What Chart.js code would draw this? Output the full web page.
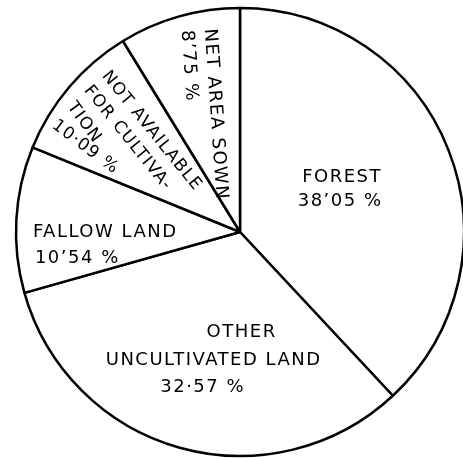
<!DOCTYPE html>
<html>
<head>
<meta charset="utf-8">
<script src="https://cdn.jsdelivr.net/npm/chart.js@4/dist/chart.umd.min.js"></script>
<style>
  html, body { margin: 0; padding: 0; background: #fff; overflow: hidden; width: 463px; height: 458px; }
  canvas { display: block; }
</style>
</head>
<body>
<canvas id="c" width="480" height="470"></canvas>
<script>
// ---- data ----
const categories = ["FOREST", "OTHER UNCULTIVATED LAND", "FALLOW LAND", "NOT AVAILABLE FOR CULTIVATION", "NET AREA SOWN"];
const shares = [38.05, 32.57, 10.54, 10.09, 8.75];
const labelLines = [["FOREST"], ["OTHER", "UNCULTIVATED LAND"], ["FALLOW LAND"], ["NOT AVAILABLE", "FOR CULTIVA-", "TION"], ["NET AREA SOWN"]];
const decimalMarks = ["\u2019", "\u00B7", "\u2019", "\u00B7", "\u2019"];

// ---- label layout (style/position only) ----
// anchor = baseline start of first line, placed relative to the slice's mid-angle
const labelLayout = [
  { frac: 0.49,  dx: 0,  dy: -10, rot: 0,  align: "center", size: 18, ls: 1.5, ys: [0, 24],          shifts: [0, -2],         lineRot: [0, 0] },
  { frac: 0.487, dx: 3,  dy: 0,   rot: 0,  align: "center", size: 18, ls: 1.5, ys: [0, 27.5, 55],    shifts: [28, 0, -11],    lineRot: [0, 0, 0] },
  { frac: 0.926, dx: 0,  dy: 17,  rot: 0,  align: "left",   size: 18, ls: 1.5, ys: [0, 26],          shifts: [0, 2],          lineRot: [0, 0] },
  { frac: 0.841, dx: 5,  dy: -34, rot: 51, align: "left",   size: 17, ls: 1.2, ys: [0, 23, 46, 71],  shifts: [0, 0, 2, 8],    lineRot: [0, 0, 3, -14] },
  { frac: 0.9416, dx: 22, dy: 0,  rot: 86, align: "left",   size: 18, ls: 1.5, ys: [0, 23],          shifts: [0, 0],          lineRot: [0, 0] }
];

const labelPlugin = {
  id: "sliceLabels",
  afterDatasetsDraw(chart) {
    const ctx = chart.ctx;
    const meta = chart.getDatasetMeta(0);
    ctx.save();
    ctx.fillStyle = "#000";
    ctx.textBaseline = "alphabetic";
    meta.data.forEach((arc, i) => {
      const p = arc.getProps(["x", "y", "startAngle", "endAngle", "outerRadius"], true);
      const mid = (p.startAngle + p.endAngle) / 2;
      const L = labelLayout[i];
      ctx.font = L.size + "px 'DejaVu Sans'";
      try { ctx.letterSpacing = L.ls + "px"; } catch (e) {}
      const ax = p.x + Math.cos(mid) * p.outerRadius * L.frac + L.dx;
      const ay = p.y + Math.sin(mid) * p.outerRadius * L.frac + L.dy;
      const lines = labelLines[i].concat([shares[i].toFixed(2).replace(".", decimalMarks[i]) + " %"]);
      ctx.save();
      ctx.translate(ax, ay);
      ctx.rotate(L.rot * Math.PI / 180);
      ctx.textAlign = L.align;
      lines.forEach((t, k) => {
        ctx.save();
        ctx.translate(L.shifts[k] || 0, L.ys[k]);
        ctx.rotate((L.lineRot[k] || 0) * Math.PI / 180);
        ctx.fillText(t, 0, 0);
        ctx.restore();
      });
      ctx.restore();
    });
    ctx.restore();
  }
};

new Chart(document.getElementById("c"), {
  type: "pie",
  data: {
    labels: categories,
    datasets: [{
      data: shares,
      backgroundColor: "#ffffff",
      borderColor: "#000000",
      borderWidth: 2.5,
      hoverBorderWidth: 2.5
    }]
  },
  options: {
    responsive: false,
    animation: false,
    radius: 224,
    layout: { padding: { top: 0, bottom: 6, left: 0, right: 0 } },
    plugins: {
      legend: { display: false },
      tooltip: { enabled: false }
    },
    events: []
  },
  plugins: [labelPlugin]
});
</script>
</body>
</html>
